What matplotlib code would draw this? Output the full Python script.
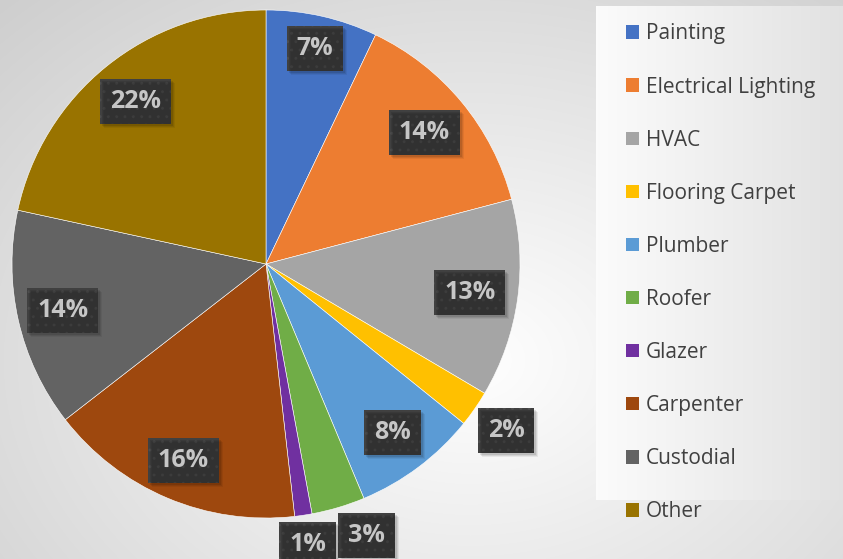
import numpy as np
import matplotlib
matplotlib.use("Agg")
import matplotlib.pyplot as plt
from matplotlib.patches import Patch, Rectangle

categories = ["Painting", "Electrical Lighting", "HVAC", "Flooring Carpet", "Plumber",
              "Roofer", "Glazer", "Carpenter", "Custodial", "Other"]
values = [7.1, 13.8, 12.6, 2.3, 7.9, 3.4, 1.1, 16.3, 13.9, 21.6]
colors = ["#4472C4", "#ED7D31", "#A5A5A5", "#FFC000", "#5B9BD5",
          "#70AD47", "#7030A0", "#9E480E", "#636363", "#997300"]
label_dist = [0.87, 0.81, 0.81, 1.15, 0.83, 1.14, 1.115, 0.84, 0.82, 0.82]
label_shift = [0, 0, 0, 0, 0, 3.7, 0, 0, 0, 0]

plt.rcParams['font.family'] = ['Open Sans', 'DejaVu Sans']

W, H = 843, 559
fig = plt.figure(figsize=(W / 100, H / 100), dpi=100)

# background gradient
bg = fig.add_axes([0, 0, 1, 1], zorder=0)
yy, xx = np.mgrid[0:H, 0:W]
d = np.sqrt(((xx - 470) / 560.0) ** 2 + ((yy - 360) / 420.0) ** 2)
val = 1.0 - 0.16 * np.clip(d, 0, 1.2)
img = np.dstack([val, val, val])
bg.imshow(img, extent=[0, W, H, 0], aspect='auto')
bg.set_xlim(0, W); bg.set_ylim(H, 0)
bg.axis('off')

# legend panel
lx0, ly0, ly1 = 596, 6, 500
lp = fig.add_axes([lx0 / W, 1 - ly1 / H, (W - lx0) / W, (ly1 - ly0) / H], zorder=1)
gx = np.linspace(0, 1, 200)
gv = 0.985 - 0.10 * gx
gimg = np.dstack([np.tile(gv, (50, 1))] * 3)
lp.imshow(gimg, extent=[0, 1, 0, 1], aspect='auto')
lp.axis('off')

# pie
cx, cy, R = 266, 264, 254
ax = fig.add_axes([(cx - R) / W, (H - cy - R) / H, 2 * R / W, 2 * R / H], zorder=2)
wedges, _ = ax.pie(values, colors=colors, startangle=90, counterclock=False,
                   radius=1, wedgeprops=dict(edgecolor='white', linewidth=0.4))
ax.set_xlim(-1, 1); ax.set_ylim(-1, 1)
ax.set_aspect('equal')
ax.axis('off')

texts = []
for w, v, ld, sh in zip(wedges, values, label_dist, label_shift):
    ang = np.deg2rad((w.theta1 + w.theta2) / 2 + sh)
    x, y = ld * np.cos(ang), ld * np.sin(ang)
    t = ax.text(x, y, f"{round(v):d}%", ha='center', va='center', color='white',
                fontsize=18, fontweight='bold', zorder=5,
                bbox=dict(boxstyle='square,pad=0.4', fc='#404040', ec='#4e4e4e',
                          lw=0, hatch='..'))
    texts.append(t)

handles = [Patch(facecolor=c, edgecolor='none') for c in colors]
leg = fig.legend(handles, categories, loc='upper left',
                 bbox_to_anchor=(616 / W, 1 - 13 / H), frameon=False,
                 fontsize=15, labelcolor='#404040', handlelength=0.62, handleheight=0.62,
                 handletextpad=0.3, labelspacing=1.54, borderpad=0)
leg.set_zorder(3)

# soft shadows behind label boxes
fig.canvas.draw()
renderer = fig.canvas.get_renderer()
for t in texts:
    bb = t.get_bbox_patch().get_window_extent(renderer)
    for k, a in ((4, 0.06), (3, 0.08), (2, 0.10)):
        fig.patches.append(Rectangle((bb.x0 + k, bb.y0 - k), bb.width, bb.height,
                                     transform=None, fc='black', ec='none',
                                     alpha=a, zorder=2.5, figure=fig))

fig.savefig("out.png", dpi=100)
